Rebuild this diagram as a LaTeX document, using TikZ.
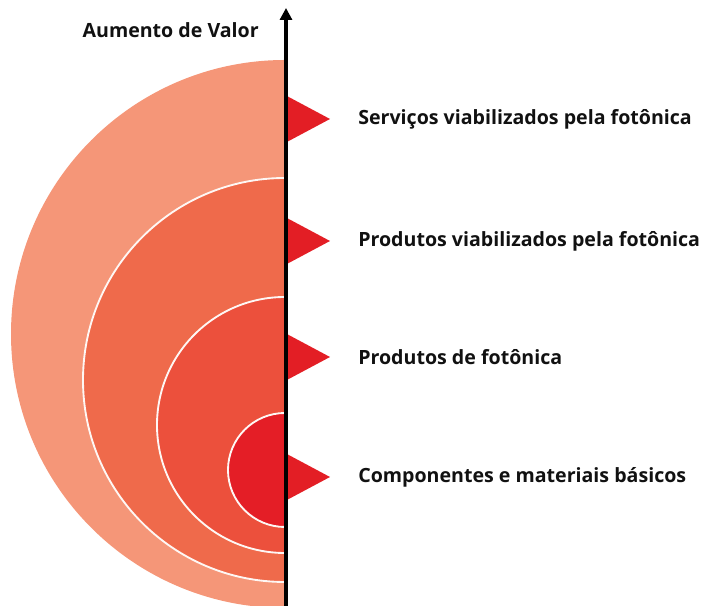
\documentclass[tikz,border=0pt]{standalone}
\usepackage{fontspec}
\setmainfont{Open Sans}
\usepackage{tikz}
\usetikzlibrary{arrows.meta, positioning}
\definecolor{ringA}{HTML}{F59678}
\definecolor{ringB}{HTML}{EF6A4B}
\definecolor{ringC}{HTML}{EC503C}
\definecolor{ringD}{HTML}{E41E26}
\definecolor{flagred}{HTML}{E31E25}
\definecolor{dkgray}{HTML}{111111}

\begin{document}
\begin{tikzpicture}[
    x=0.75pt, y=0.75pt,
    ring/.style={fill=#1},
    sep/.style={draw=white!92!ringA, line width=1.4pt},
    flag/.style={fill=flagred},
    lbl/.style={font=\fontsize{14.7}{17}\selectfont\bfseries, color=dkgray, inner sep=0pt},
    >=Triangle
]
\useasboundingbox (0,0) rectangle (704,606);

% ===== half rings, outer to inner =====
\foreach \cy/\r/\c in {272/274/ringA, 226/202/ringB, 181/128/ringC, 136/57/ringD} {
    \fill[ring=\c] (285,\cy+\r) arc[start angle=90, end angle=270, radius=\r] -- cycle;
}
% white borders between rings
\foreach \cy/\r in {226/202, 181/128, 136/57} {
    \draw[sep] (285,\cy+\r) arc[start angle=90, end angle=270, radius=\r];
}

% ===== flags and labels =====
\foreach \y/\txt [count=\i] in {487/Serviços viabilizados pela fotônica,
                                365/Produtos viabilizados pela fotônica,
                                249/Produtos de fotônica,
                                129/Componentes e materiais básicos} {
    \fill[flag] (285,\y+24) -- (330,\y) -- (285,\y-24) -- cycle;
    \node[lbl, anchor=west] (l\i) at (358,\y) {\txt};
}

% ===== value axis =====
\coordinate (base) at (286,0);
\coordinate (tip) at (286,598);
\draw[->, line width=3pt, black, >={Triangle[length=9pt, width=9pt]}] (base) -- (tip);
\node[lbl, anchor=east] (axlbl) at (259,576) {Aumento de Valor};

\end{tikzpicture}
\end{document}
